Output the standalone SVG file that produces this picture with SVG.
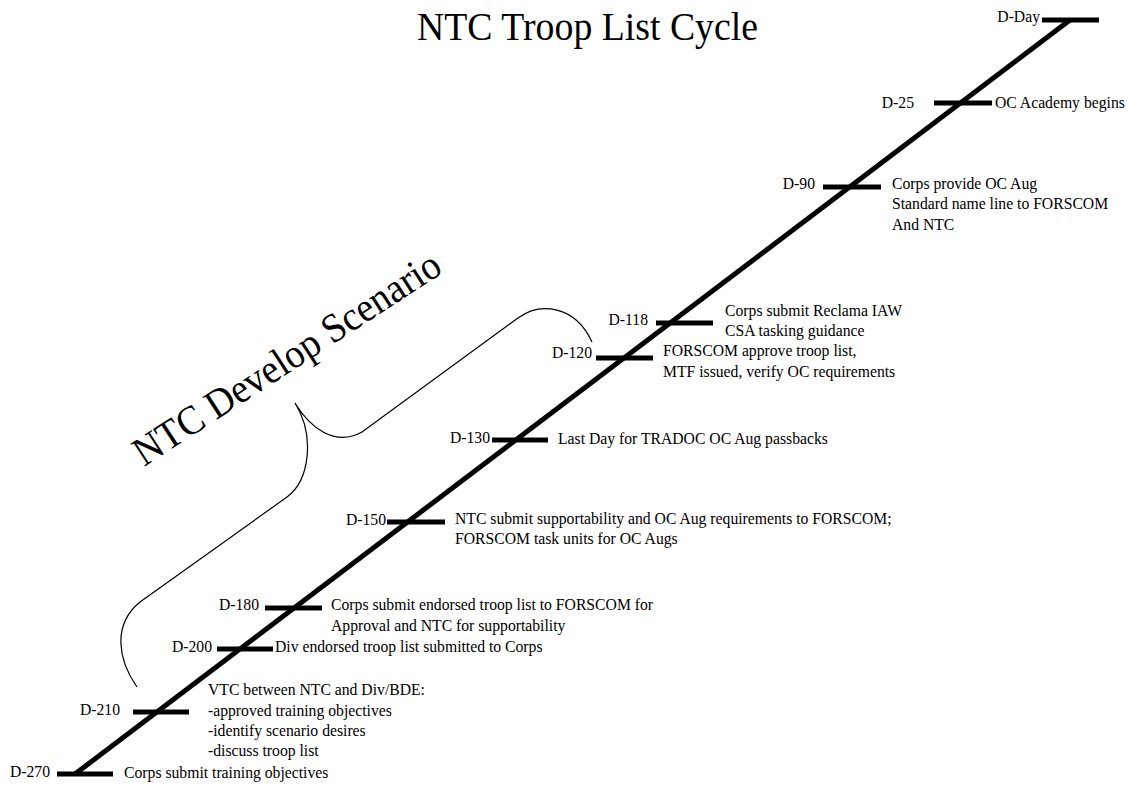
<svg xmlns="http://www.w3.org/2000/svg" width="1131" height="786" viewBox="0 0 1131 786">
<style>
text{font-family:"Liberation Serif","Times New Roman",serif;fill:#000}
.l{font-size:15.7px}
.e{text-anchor:end}
.tick{stroke:#000;stroke-width:5;fill:none}
.main{stroke:#000;stroke-width:5;fill:none}
.brace{stroke:#000;stroke-width:1.2;fill:none}
</style>
<rect width="1131" height="786" fill="#fff"/>
<g id="title"><text x="417" y="40" font-size="41" textLength="341" lengthAdjust="spacingAndGlyphs">NTC Troop List Cycle</text></g>
<g id="connectors">
<line class="main" x1="75" y1="774" x2="1070" y2="20"/>
<path class="brace" d="M137,687 C118,660 112,625 140,602 L287,497 C310,480 315,435 295,403 C310,428 335,447 362,432 L518,318 C540,302 575,305 592,342"/>
</g>
<g id="scenario"><text font-size="41" transform="translate(144,467) rotate(-33)" textLength="358" lengthAdjust="spacingAndGlyphs">NTC Develop Scenario</text></g>
<g id="dday"><line class="tick" x1="1042" y1="20" x2="1099" y2="20"/><text class="l e" x="1040" y="22">D-Day</text></g>
<g id="d25"><line class="tick" x1="934" y1="103" x2="992" y2="103"/><text class="l e" x="914" y="108">D-25</text><text class="l" x="995" y="108">OC Academy begins</text></g>
<g id="d90"><line class="tick" x1="823" y1="187" x2="881" y2="187"/><text class="l e" x="815" y="189">D-90</text><text class="l" x="892" y="189">Corps provide OC Aug</text><text class="l" x="892" y="209">Standard name line to FORSCOM</text><text class="l" x="892" y="230">And NTC</text></g>
<g id="d118"><line class="tick" x1="656" y1="323" x2="713" y2="323"/><text class="l e" x="648" y="325">D-118</text><text class="l" x="725" y="316">Corps submit Reclama IAW</text><text class="l" x="725" y="336">CSA tasking guidance</text></g>
<g id="d120"><line class="tick" x1="596" y1="358" x2="653" y2="358"/><text class="l e" x="592" y="358">D-120</text><text class="l" x="663" y="356">FORSCOM approve troop list,</text><text class="l" x="663" y="377">MTF issued, verify OC requirements</text></g>
<g id="d130"><line class="tick" x1="492" y1="440" x2="548" y2="440"/><text class="l e" x="490" y="443">D-130</text><text class="l" x="558" y="444">Last Day for TRADOC OC Aug passbacks</text></g>
<g id="d150"><line class="tick" x1="387" y1="522" x2="445" y2="522"/><text class="l e" x="386" y="525">D-150</text><text class="l" x="455" y="524">NTC submit supportability and OC Aug requirements to FORSCOM;</text><text class="l" x="455" y="544">FORSCOM task units for OC Augs</text></g>
<g id="d180"><line class="tick" x1="265" y1="608" x2="322" y2="608"/><text class="l e" x="259" y="610">D-180</text><text class="l" x="331" y="610">Corps submit endorsed troop list to FORSCOM for</text><text class="l" x="331" y="631">Approval and NTC for supportability</text></g>
<g id="d200"><line class="tick" x1="217" y1="649" x2="273" y2="649"/><text class="l e" x="212" y="652">D-200</text><text class="l" x="275" y="652">Div endorsed troop list submitted to Corps</text></g>
<g id="d210"><line class="tick" x1="133" y1="712" x2="189" y2="712"/><text class="l e" x="120" y="715">D-210</text><text class="l" x="208" y="695">VTC between NTC and Div/BDE:</text><text class="l" x="208" y="716">-approved training objectives</text><text class="l" x="208" y="736">-identify scenario desires</text><text class="l" x="208" y="756">-discuss troop list</text></g>
<g id="d270"><line class="tick" x1="57" y1="774" x2="113" y2="774"/><text class="l e" x="50" y="777">D-270</text><text class="l" x="124" y="778">Corps submit training objectives</text></g>
</svg>
